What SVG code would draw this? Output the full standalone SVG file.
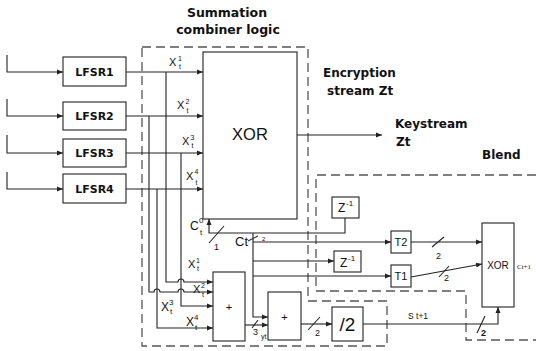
<svg xmlns="http://www.w3.org/2000/svg" width="536" height="351" viewBox="0 0 536 351">
<defs>
<marker id="ar" markerWidth="7" markerHeight="7" refX="6" refY="3" orient="auto" markerUnits="userSpaceOnUse"><path d="M0,0.5 L6,3 L0,5.5 z" fill="#222"/></marker>
<style>
.box{fill:#fff;stroke:#222;stroke-width:1.1}
.ln{fill:none;stroke:#222;stroke-width:1.1}
.dash{fill:none;stroke:#555;stroke-width:1.3;stroke-dasharray:9 5}
.b{font-family:"DejaVu Sans",Verdana,sans-serif;font-weight:bold;fill:#111}
.r{font-family:"Liberation Sans",Arial,sans-serif;fill:#111}
.s{font-family:"Liberation Serif",serif;fill:#111}
</style>
</defs>
<rect width="536" height="351" fill="#fff"/>

<g id="regions">
<path class="dash" d="M142,47 H308 V301 H387 V346 H142 Z"/>
<path class="dash" d="M536,175 H316 V291 H466 V340 H536"/>
</g>

<g id="titles">
<text class="b" x="227" y="17" font-size="12.5" text-anchor="middle">Summation</text>
<text class="b" x="228" y="34" font-size="12.5" text-anchor="middle">combiner logic</text>
<text class="b" x="323" y="77" font-size="12">Encryption</text>
<text class="b" x="327" y="95" font-size="12">stream Zt</text>
<text class="b" x="395" y="128" font-size="12">Keystream</text>
<text class="b" x="396" y="146" font-size="12">Zt</text>
<text class="b" x="482" y="159" font-size="12">Blend</text>
</g>

<g id="connectors">
<path class="ln" d="M7,55 V72 H63" marker-end="url(#ar)"/>
<path class="ln" d="M7,99 V116 H63" marker-end="url(#ar)"/>
<path class="ln" d="M7,135 V153 H63" marker-end="url(#ar)"/>
<path class="ln" d="M7,172 V189 H63" marker-end="url(#ar)"/>
<path class="ln" d="M126,72 H203" marker-end="url(#ar)"/>
<path class="ln" d="M126,116 H203" marker-end="url(#ar)"/>
<path class="ln" d="M126,153 H203" marker-end="url(#ar)"/>
<path class="ln" d="M126,189 H203" marker-end="url(#ar)"/>
<path class="ln" d="M166,72 V282 H178 a3,3 0 0 1 6,0 H213" marker-end="url(#ar)"/>
<path class="ln" d="M149,116 V292 H154 a3,3 0 0 1 6,0 H178 a3,3 0 0 1 6,0 H213" marker-end="url(#ar)"/>
<path class="ln" d="M181,153 V306 H213" marker-end="url(#ar)"/>
<path class="ln" d="M157,189 V328 H213" marker-end="url(#ar)"/>
<path class="ln" d="M297,135 H382" marker-end="url(#ar)"/>
<path class="ln" d="M345,218 V233 H209 V219" marker-end="url(#ar)"/>
<path class="ln" d="M209,243 L224,226"/>
<path class="ln" d="M253,233 V317 H268" marker-end="url(#ar)"/>
<path class="ln" d="M248,241 L258,236"/>
<path class="ln" d="M253,242 H391" marker-end="url(#ar)"/>
<path class="ln" d="M253,261 H334" marker-end="url(#ar)"/>
<path class="ln" d="M253,276 H391" marker-end="url(#ar)"/>
<path class="ln" d="M411,242 H482" marker-end="url(#ar)"/>
<path class="ln" d="M432,247 L444,237"/>
<path class="ln" d="M411,277 L482,264" marker-end="url(#ar)"/>
<path class="ln" d="M439,277 L449,266"/>
<path class="ln" d="M245,325 H268" marker-end="url(#ar)"/>
<path class="ln" d="M252,328 L258,320"/>
<path class="ln" d="M301,324 H332" marker-end="url(#ar)"/>
<path class="ln" d="M308,330 L320,317"/>
<path class="ln" d="M363,324 H498 V307" marker-end="url(#ar)"/>
<path class="ln" d="M477,333 L485,316"/>
</g>

<g id="connector-labels">
<text class="r" font-size="11"><tspan x="169" y="66">X</tspan><tspan x="178" y="61" font-size="7">1</tspan><tspan x="179" y="69" font-size="7">t</tspan></text>
<text class="r" font-size="11"><tspan x="177" y="109">X</tspan><tspan x="185.5" y="104" font-size="7">2</tspan><tspan x="186.5" y="113" font-size="7">t</tspan></text>
<text class="r" font-size="11"><tspan x="182" y="145">X</tspan><tspan x="190.5" y="140" font-size="7">3</tspan><tspan x="191.5" y="148" font-size="7">t</tspan></text>
<text class="r" font-size="11"><tspan x="186" y="180">X</tspan><tspan x="194.5" y="174" font-size="7">4</tspan><tspan x="195.5" y="185" font-size="7">t</tspan></text>
<text class="r" font-size="12"><tspan x="190" y="230">C</tspan><tspan x="199" y="223" font-size="8">0</tspan><tspan x="200" y="235" font-size="8">t</tspan></text>
<text class="r" x="214" y="250" font-size="9">1</text>
<text class="r" x="235" y="246" font-size="13">Ct</text>
<text class="r" x="262" y="241" font-size="6">2</text>
<text class="r" font-size="11"><tspan x="188" y="268">X</tspan><tspan x="196" y="263" font-size="7">1</tspan><tspan x="197" y="271" font-size="7">t</tspan></text>
<text class="r" font-size="11"><tspan x="193" y="293">X</tspan><tspan x="201" y="288" font-size="7">2</tspan><tspan x="202" y="297" font-size="7">t</tspan></text>
<text class="r" font-size="12"><tspan x="161" y="311">X</tspan><tspan x="169" y="305" font-size="8">3</tspan><tspan x="170" y="314" font-size="8">t</tspan></text>
<text class="r" font-size="12"><tspan x="186" y="326">X</tspan><tspan x="194" y="320" font-size="8">4</tspan><tspan x="195" y="330" font-size="8">t</tspan></text>
<text class="r" x="253" y="335" font-size="9">3</text>
<text class="r" x="261" y="339" font-size="7">yt</text>
<text class="r" x="315" y="336" font-size="9">2</text>
<text class="r" x="436" y="259" font-size="9">2</text>
<text class="r" x="444" y="281" font-size="9">2</text>
<text class="r" x="408" y="319" font-size="8.5">S t+1</text>
<text class="r" x="481" y="336" font-size="9" font-weight="bold">2</text>
<text class="s" x="517" y="269" font-size="7">Ct+1</text>
</g>

<g id="lfsr1"><rect class="box" x="63" y="57" width="63" height="29"/><text class="b" x="94.5" y="75.5" font-size="11" text-anchor="middle">LFSR1</text></g>
<g id="lfsr2"><rect class="box" x="63" y="102" width="63" height="28"/><text class="b" x="94.5" y="120" font-size="11" text-anchor="middle">LFSR2</text></g>
<g id="lfsr3"><rect class="box" x="63" y="139" width="63" height="28"/><text class="b" x="94.5" y="157" font-size="11" text-anchor="middle">LFSR3</text></g>
<g id="lfsr4"><rect class="box" x="63" y="174" width="63" height="29"/><text class="b" x="94.5" y="193" font-size="11" text-anchor="middle">LFSR4</text></g>

<g id="xor-main"><rect class="box" x="203" y="52" width="94" height="167"/><text class="r" x="250" y="140" font-size="16.5" text-anchor="middle">XOR</text></g>

<g id="z1-upper"><rect class="box" x="332" y="197" width="27" height="21"/><text class="r" font-size="12"><tspan x="338" y="212">Z</tspan><tspan x="346" y="206" font-size="8">-1</tspan></text></g>
<g id="z1-lower"><rect class="box" x="334" y="251" width="27" height="21"/><text class="r" font-size="12"><tspan x="340" y="267">Z</tspan><tspan x="348" y="261" font-size="8">-1</tspan></text></g>

<g id="t2"><rect class="box" x="391" y="231" width="20" height="22"/><text class="r" x="401" y="246" font-size="11" text-anchor="middle">T2</text></g>
<g id="t1"><rect class="box" x="391" y="265" width="20" height="22"/><text class="r" x="401" y="280" font-size="11" text-anchor="middle">T1</text></g>

<g id="xor-blend"><rect class="box" x="482" y="223" width="32" height="84"/><text class="r" x="498" y="269" font-size="10" text-anchor="middle">XOR</text></g>

<g id="adder1"><rect class="box" x="213" y="272" width="32" height="69"/><text class="r" x="229" y="311" font-size="11" text-anchor="middle">+</text></g>
<g id="adder2"><rect class="box" x="268" y="292" width="33" height="48"/><text class="r" x="284.5" y="321" font-size="11" text-anchor="middle">+</text></g>
<g id="div2"><rect class="box" x="332" y="307" width="31" height="34"/><text class="r" x="347.5" y="331" font-size="19" text-anchor="middle">/2</text></g>
</svg>
